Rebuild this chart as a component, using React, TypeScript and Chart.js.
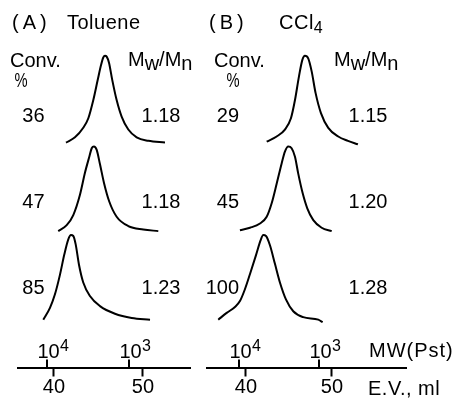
import React, { useEffect, useRef } from "react";
import { Chart, registerables } from "chart.js";

Chart.register(...registerables);

const FONT = '"Liberation Sans", Arial, Helvetica, sans-serif';

// ---- Axis data ----
const evTicks = [40, 50]; // elution volume, ml
const mwTickEV = [39.2, 48.45]; // E.V. position of the MW calibration ticks
const mwTickExp = ["4", "3"]; // 10^4, 10^3

// ---- Stacked trace offsets (rows: top, middle, bottom) ----
const rowOffsets = [2.54, 1.54, 0.54];
const rowAmps = [0.98, 0.955, 0.955];

// ---- Panel A: Toluene ----
const convA = ["36", "47", "85"];
const mwmnA = ["1.18", "1.18", "1.23"];
const evA1 = [41.35, 42.36, 43.29, 43.86, 44.42, 44.91, 45.28, 45.54, 45.73, 45.92, 46.18, 46.55, 47.04, 47.6, 48.35, 49.29, 50.6, 52.47];
const hA1 = [0, 0.06, 0.17, 0.28, 0.49, 0.72, 0.89, 0.98, 1.0, 0.99, 0.92, 0.72, 0.49, 0.3, 0.15, 0.06, 0.02, 0];
const evA2 = [40.48, 41.43, 42.17, 42.92, 43.48, 43.97, 44.24, 44.49, 44.8, 45.17, 45.62, 46.21, 47.04, 48.35, 50.03, 51.72];
const hA2 = [0, 0.07, 0.19, 0.43, 0.69, 0.88, 0.98, 1.0, 0.96, 0.79, 0.57, 0.35, 0.17, 0.06, 0.02, 0];
const evA3 = [38.8, 39.55, 40.11, 40.67, 41.16, 41.61, 41.91, 42.17, 42.44, 42.81, 43.29, 44.04, 45.17, 46.85, 48.73, 50.79];
const hA3 = [0, 0.14, 0.3, 0.53, 0.77, 0.95, 1.0, 0.99, 0.89, 0.65, 0.44, 0.28, 0.16, 0.07, 0.02, 0];

// ---- Panel B: CCl4 ----
const convB = ["29", "45", "100"];
const mwmnB = ["1.15", "1.20", "1.28"];
const evB1 = [42.41, 43.57, 44.53, 45.23, 45.7, 46.16, 46.55, 46.86, 47.24, 47.64, 48.1, 48.72, 49.57, 50.73, 51.86, 53.02];
const hB1 = [0.01, 0.07, 0.15, 0.28, 0.49, 0.76, 0.95, 1.0, 0.97, 0.82, 0.57, 0.34, 0.17, 0.07, 0.02, -0.02];
const evB2 = [39.3, 40.47, 41.63, 42.41, 42.99, 43.57, 44.15, 44.53, 44.92, 45.31, 45.7, 46.08, 46.59, 47.13, 47.83, 48.8, 49.97];
const hB2 = [0.01, 0.04, 0.09, 0.17, 0.33, 0.56, 0.8, 0.94, 1.0, 0.98, 0.88, 0.68, 0.45, 0.27, 0.13, 0.04, 0];
const evB3 = [36.78, 37.76, 38.72, 39.3, 39.88, 40.47, 41.16, 41.71, 42.01, 42.33, 42.79, 43.37, 43.95, 44.65, 45.5, 46.66, 48.41, 48.92];
const hB3 = [0, 0.08, 0.15, 0.22, 0.36, 0.54, 0.76, 0.94, 1.0, 0.99, 0.88, 0.66, 0.44, 0.24, 0.1, 0.03, 0, -0.03];

type PanelCfg = {
  key: string;
  left: number;
  width: number;
  padLeft: number;
  padRight: number;
  xMin: number;
  xMax: number;
  evs: number[][];
  hs: number[][];
  label: string;
  labelX: number;
  solvent: string;
  solventSub: string;
  solventX: number;
  convX: number;
  pctX: number;
  mwmnHeadX: number;
  conv: string[];
  convRight: number;
  mwmn: string[];
  mwmnCenter: number;
  axisNames: boolean;
};

const panels: PanelCfg[] = [
  {
    key: "A", left: 0, width: 200, padLeft: 18, padRight: 10, xMin: 35.96, xMax: 55.28,
    evs: [evA1, evA2, evA3], hs: [hA1, hA2, hA3],
    label: "(A)", labelX: 12, solvent: "Toluene", solventSub: "", solventX: 67,
    convX: 10, pctX: 21, mwmnHeadX: 128, conv: convA, convRight: 44.5, mwmn: mwmnA, mwmnCenter: 161,
    axisNames: false,
  },
  {
    key: "B", left: 200, width: 253, padLeft: 7, padRight: 47, xMin: 35.47, xMax: 58.61,
    evs: [evB1, evB2, evB3], hs: [hB1, hB2, hB3],
    label: "(B)", labelX: 209, solvent: "CCl", solventSub: "4", solventX: 279,
    convX: 214, pctX: 233, mwmnHeadX: 334, conv: convB, convRight: 239, mwmn: mwmnB, mwmnCenter: 368,
    axisNames: true,
  },
];

const rowTextBaselines = [122, 208, 294];

function drawText(
  ctx: CanvasRenderingContext2D,
  s: string,
  x: number,
  y: number,
  opts: { size?: number; align?: CanvasTextAlign; spacing?: number; scaleX?: number } = {}
) {
  const { size = 20, align = "left", spacing = 0, scaleX = 1 } = opts;
  ctx.save();
  ctx.font = `${size}px ${FONT}`;
  (ctx as any).letterSpacing = `${spacing}px`;
  ctx.textAlign = align;
  ctx.textBaseline = "alphabetic";
  ctx.fillStyle = "#000";
  if (scaleX !== 1) {
    ctx.translate(x, y);
    ctx.scale(scaleX, 1);
    ctx.fillText(s, 0, 0);
  } else {
    ctx.fillText(s, x, y);
  }
  const w = ctx.measureText(s).width * scaleX;
  ctx.restore();
  return w;
}

function makePlugin(cfg: PanelCfg) {
  return {
    id: "panelText" + cfg.key,
    afterDraw(chart: any) {
      const ctx: CanvasRenderingContext2D = chart.ctx;
      const xs = chart.scales.x;
      const bottom = chart.chartArea.bottom;
      const o = cfg.left;
      ctx.save();
      // MW calibration ticks (upward) and labels
      ctx.strokeStyle = "#000";
      ctx.lineWidth = 2;
      mwTickEV.forEach((v, i) => {
        const px = Math.round(xs.getPixelForValue(v)) + 0.0;
        ctx.beginPath();
        ctx.moveTo(px, bottom - 8);
        ctx.lineTo(px, bottom);
        ctx.stroke();
        ctx.save();
        ctx.font = `20px ${FONT}`;
        const w10 = ctx.measureText("10").width;
        ctx.restore();
        const x10 = px + 1.5 - w10 / 2;
        drawText(ctx, "10", x10, 358);
        drawText(ctx, mwTickExp[i], x10 + w10 + 0.5, 351, { size: 16 });
      });
      // Header
      drawText(ctx, cfg.label, cfg.labelX - o, 29, { spacing: 4 });
      let w = drawText(ctx, cfg.solvent, cfg.solventX - o, 29, { spacing: 0.5 });
      if (cfg.solventSub) drawText(ctx, cfg.solventSub, cfg.solventX - o + w, 33, { size: 16 });
      drawText(ctx, "Conv.", cfg.convX - o, 67);
      drawText(ctx, "%", cfg.pctX - o, 87, { align: "center", scaleX: 0.7, size: 21 });
      // Mw/Mn header
      let hx = cfg.mwmnHeadX - o;
      hx += drawText(ctx, "M", hx, 66);
      hx += drawText(ctx, "w", hx, 70);
      hx += drawText(ctx, "/", hx, 66);
      hx += drawText(ctx, "M", hx, 66);
      drawText(ctx, "n", hx, 70);
      // Row values
      cfg.conv.forEach((s, i) => drawText(ctx, s, cfg.convRight - o, rowTextBaselines[i], { align: "right" }));
      cfg.mwmn.forEach((s, i) => drawText(ctx, s, cfg.mwmnCenter - o, rowTextBaselines[i], { align: "center" }));
      if (cfg.axisNames) {
        drawText(ctx, "MW(Pst)", 369 - o, 357, { spacing: 1 });
        drawText(ctx, "E.V., ml", 368 - o, 395, { spacing: 0.5 });
      }
      ctx.restore();
    },
  };
}

function Panel({ cfg }: { cfg: PanelCfg }) {
  const ref = useRef<HTMLCanvasElement | null>(null);
  useEffect(() => {
    if (!ref.current) return;
    const datasets = cfg.evs.map((ev, i) => ({
      label: `row${i}`,
      data: ev.map((e, j) => ({ x: e, y: rowOffsets[i] + rowAmps[i] * cfg.hs[i][j] })),
      borderColor: "#000",
      borderWidth: 2,
      pointRadius: 0,
      fill: false,
      cubicInterpolationMode: "monotone" as const,
      clip: false as any,
    }));
    const chart = new Chart(ref.current, {
      type: "line",
      data: { datasets },
      options: {
        responsive: false,
        maintainAspectRatio: false,
        animation: false,
        devicePixelRatio: 1,
        layout: { padding: { left: cfg.padLeft, right: cfg.padRight, top: 0, bottom: 1.5 } },
        plugins: { legend: { display: false }, tooltip: { enabled: false }, title: { display: false } },
        scales: {
          x: {
            type: "linear",
            position: "bottom",
            min: cfg.xMin,
            max: cfg.xMax,
            afterBuildTicks: (s: any) => {
              s.ticks = evTicks.map((v) => ({ value: v }));
            },
            border: { display: true, color: "#000", width: 2 },
            grid: {
              display: true,
              drawOnChartArea: false,
              drawTicks: true,
              tickLength: 9,
              tickWidth: 2,
              tickColor: "#000",
              color: "#000",
            },
            ticks: {
              color: "#000",
              font: { family: FONT, size: 20 },
              padding: -1,
              maxRotation: 0,
              autoSkip: false,
              callback: (v: any) => String(v),
            },
          },
          y: { type: "linear", min: 0, max: 4.15, display: false },
        },
      },
      plugins: [makePlugin(cfg)],
    } as any);
    return () => chart.destroy();
  }, [cfg]);
  return (
    <canvas
      ref={ref}
      width={cfg.width}
      height={400}
      style={{ position: "absolute", left: cfg.left, top: 0, width: cfg.width, height: 400 }}
    />
  );
}

export default function App() {
  return (
    <div style={{ position: "absolute", left: 0, top: 0, width: 453, height: 400, background: "#fff" }}>
      {panels.map((p) => (
        <Panel key={p.key} cfg={p} />
      ))}
    </div>
  );
}
